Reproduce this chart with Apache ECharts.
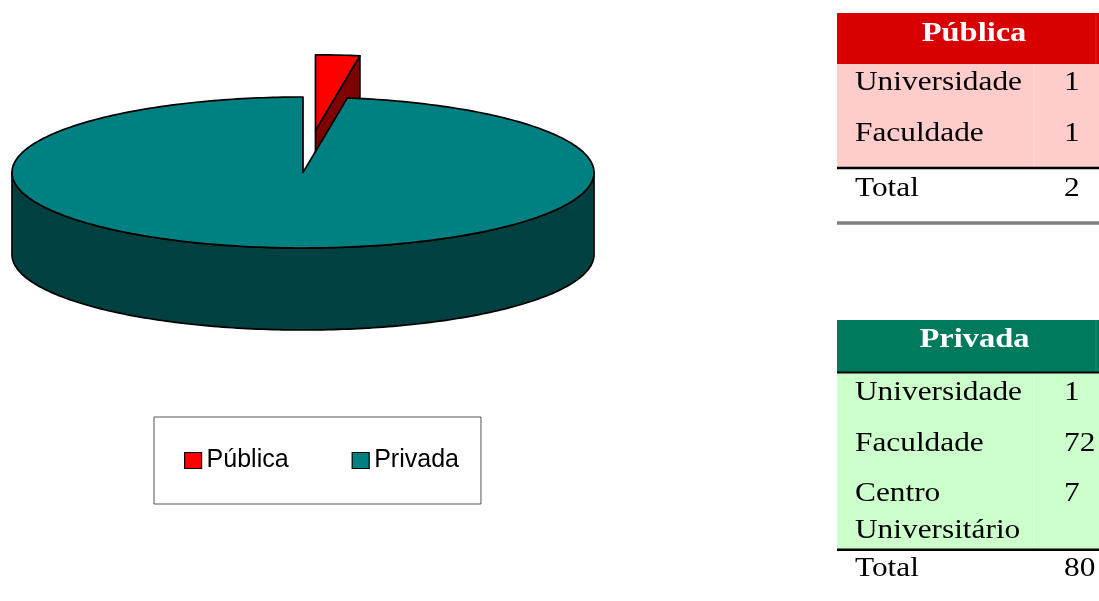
<!DOCTYPE html>
<html>
<head>
<meta charset="utf-8">
<script src="https://cdn.jsdelivr.net/npm/echarts@6/dist/echarts.min.js"></script>
<style>
  html, body { margin: 0; padding: 0; background: #fff; }
  #chart { width: 1099px; height: 601px; }
</style>
</head>
<body>
<div id="chart"></div>
<script>
// Instituições por categoria administrativa
const categories = ['Pública', 'Privada'];
const publicaTipos = ['Universidade', 'Faculdade'];
const publicaQtd = [1, 1];
const privadaTipos = ['Universidade', 'Faculdade', 'Centro\nUniversitário'];
const privadaQtd = [1, 72, 7];

const sum = arr => arr.reduce((s, v) => s + v, 0);
// Each slice is the total of its table
const pieValues = [sum(publicaQtd), sum(privadaQtd)];

// ---- 3D pie geometry (screen pixels) ----
const PIE = { cx: 303, cy: 172.5, rx: 291, ry: 75.5, depth: 82, explode: 0.56 };
const topColors = ['#FF0000', '#008080'];
const sideColors = ['#800000', '#004040'];
const exploded = [true, false];
const EDGE = { stroke: '#000', lineWidth: 1.7, lineJoin: 'round' };

// angle in degrees, clockwise from the back of the pie
function pt(theta, off, drop) {
  const r = theta * Math.PI / 180;
  return [PIE.cx + PIE.rx * Math.sin(r) + off[0],
          PIE.cy - PIE.ry * Math.cos(r) + off[1] + drop];
}
function arc(a0, a1, off, drop) {
  const n = Math.max(2, Math.ceil(Math.abs(a1 - a0)));
  const out = [];
  for (let i = 0; i <= n; i++) out.push(pt(a0 + (a1 - a0) * i / n, off, drop));
  return out;
}
function poly(points, fill) {
  return { type: 'polygon', shape: { points }, style: Object.assign({ fill }, EDGE) };
}

function renderSlice(params, api) {
  const k = params.seriesIndex;
  const total = sum(pieValues);
  const before = sum(pieValues.slice(0, k));
  const a0 = before / total * 360;
  const a1 = (before + api.value(0)) / total * 360;
  let off = [0, 0];
  if (exploded[k]) {
    const mid = (a0 + a1) / 2 * Math.PI / 180;
    off = [PIE.explode * PIE.rx * Math.sin(mid), -PIE.explode * PIE.ry * Math.cos(mid)];
  }
  const apexTop = [PIE.cx + off[0], PIE.cy + off[1]];
  const apexBot = [apexTop[0], apexTop[1] + PIE.depth];
  const children = [];

  // outer wall, front half only
  const s = Math.max(a0, 90), e = Math.min(a1, 270);
  if (e > s) children.push(poly(arc(s, e, off, 0).concat(arc(e, s, off, PIE.depth)), sideColors[k]));

  // cut faces that turn towards the viewer
  const sin1 = Math.sin(a1 * Math.PI / 180);
  if (sin1 > 1e-6) children.push(poly([apexTop, pt(a1, off, 0), pt(a1, off, PIE.depth), apexBot], sideColors[k]));
  const sin0 = Math.sin(a0 * Math.PI / 180);
  if (sin0 < -1e-6) children.push(poly([apexTop, pt(a0, off, 0), pt(a0, off, PIE.depth), apexBot], sideColors[k]));

  // top face
  children.push(poly([apexTop].concat(arc(a0, a1, off, 0)), topColors[k]));
  return { type: 'group', children };
}

// ---- side tables ----
const SERIF = '"Liberation Serif", "Times New Roman", serif';
const SX = 1.16;
function txt(text, x, baseline, size, bold, color, align) {
  return {
    type: 'text', x, y: baseline - 0.3375 * size, scaleX: SX, silent: true, z: 10,
    style: {
      text, font: (bold ? 'bold ' : '') + size + 'px ' + SERIF,
      fill: color, align: align || 'left', verticalAlign: 'middle'
    }
  };
}
function rect(x, y, w, h, fill) {
  return { type: 'rect', silent: true, z: 5, shape: { x, y, width: w, height: h }, style: { fill } };
}
function hline(x1, x2, y, color, w) {
  return { type: 'line', silent: true, z: 8, shape: { x1, y1: y, x2, y2: y }, style: { stroke: color, lineWidth: w } };
}
function vline(x, y1, y2, color, w) {
  return { type: 'line', silent: true, z: 8, shape: { x1: x, y1, x2: x, y2 }, style: { stroke: color, lineWidth: w } };
}

const TX = 837, TW = 262, LBL_X = 855, VAL_X = 1064, COL_X = 1034;
const graphics = [];

// Pública
graphics.push(rect(TX, 13, TW, 51, '#D80000'));
graphics.push(vline(1096, 13, 64, 'rgba(255,255,255,0.15)', 1));
graphics.push(txt(categories[0], 974, 43, 28, true, '#fff', 'center'));
graphics.push(rect(TX, 64, TW, 104, '#FFCCCC'));
graphics.push(vline(COL_X, 64, 167, 'rgba(255,255,255,0.35)', 1));
const pubBase = [92, 143];
publicaTipos.forEach((t, i) => {
  graphics.push(txt(t, LBL_X, pubBase[i], 27, false, '#000'));
  graphics.push(txt(String(publicaQtd[i]), VAL_X, pubBase[i], 27, false, '#000'));
});
graphics.push(hline(TX, 1099, 168, '#000', 2.4));
graphics.push(txt('Total', LBL_X, 198, 27, false, '#000'));
graphics.push(txt(String(pieValues[0]), VAL_X, 198, 27, false, '#000'));
graphics.push(hline(TX, 1099, 223, '#808080', 3.5));

// Privada
graphics.push(rect(TX, 320, TW, 53, '#007A5C'));
graphics.push(vline(1096, 320, 372, 'rgba(255,255,255,0.15)', 1));
graphics.push(txt(categories[1], 974.5, 349, 28, true, '#fff', 'center'));
graphics.push(rect(TX, 373, TW, 177, '#CCFFCC'));
graphics.push(vline(COL_X, 374, 548, 'rgba(255,255,255,0.4)', 1));
graphics.push(hline(TX, 1099, 372.5, '#000', 2.2));
const priBase = [402, 453, 503];
privadaTipos.forEach((t, i) => {
  t.split('\n').forEach((line, j) => {
    graphics.push(txt(line, LBL_X, priBase[i] + j * 37, 27, false, '#000'));
  });
  graphics.push(txt(String(privadaQtd[i]), VAL_X, priBase[i], 27, false, '#000'));
});
graphics.push(hline(TX, 1099, 549.7, '#000', 2.4));
graphics.push(txt('Total', LBL_X, 578, 27, false, '#000'));
graphics.push(txt(String(pieValues[1]), VAL_X, 578, 27, false, '#000'));

const chart = echarts.init(document.getElementById('chart'), null, { renderer: 'canvas' });
chart.setOption({
  backgroundColor: '#fff',
  animation: false,
  legend: {
    data: categories,
    left: 154, top: 417,
    orient: 'horizontal',
    padding: [31, 22, 31, 30],
    itemGap: 63,
    itemWidth: 17, itemHeight: 16,
    icon: 'rect',
    selectedMode: false,
    itemStyle: { borderColor: '#000', borderWidth: 1.2 },
    textStyle: { fontFamily: '"Liberation Sans", Arial, sans-serif', fontSize: 25, color: '#000' },
    backgroundColor: '#fff',
    borderColor: '#555',
    borderWidth: 1
  },
  graphic: { elements: graphics },
  series: categories.map((name, k) => ({
    type: 'custom',
    name,
    coordinateSystem: 'none',
    silent: true,
    z: 2 + k,
    itemStyle: { color: topColors[k] },
    data: [pieValues[k]],
    renderItem: renderSlice
  }))
});
</script>
</body>
</html>
